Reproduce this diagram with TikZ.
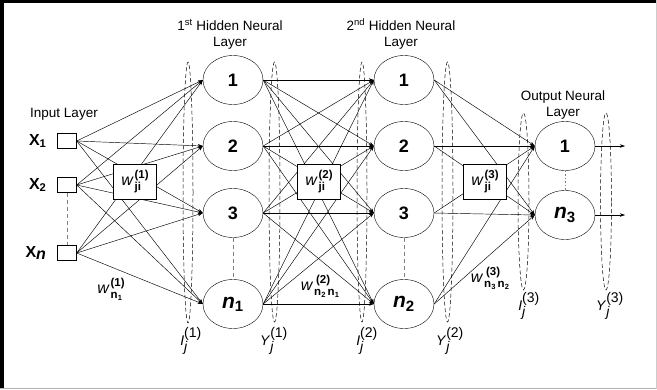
\documentclass[tikz,border=0pt]{standalone}
\usepackage{fontspec}
\setmainfont{Liberation Sans}
\usetikzlibrary{shapes.geometric,arrows.meta}
\newcommand{\wstack}[2]{\textit{w}\kern0.8pt{\fontsize{11.5}{11.5}\selectfont\bfseries\renewcommand{\arraystretch}{1.0}\begin{tabular}[c]{@{}l@{}}#1\\#2\end{tabular}}}
\newcommand{\nsub}[1]{n\kern0.3pt\raisebox{-2pt}{\fontsize{7.5}{8}\selectfont #1}}
\begin{document}
\begin{tikzpicture}[x=1pt,y=-1pt,
  inbox/.style={draw, minimum width=19pt, minimum height=15pt, inner sep=0pt},
  neuron/.style={draw, ellipse, minimum width=60pt, minimum height=49pt, inner sep=0pt, font=\fontsize{18}{18}\selectfont\bfseries},
  nneuron/.style={neuron, font=\fontsize{21}{21}\selectfont\bfseries\itshape},
  wbox/.style={draw, fill=white, minimum width=43pt, minimum height=35pt, inner sep=0pt, font=\fontsize{16}{16}\selectfont},
  conn/.style={-{Stealth[length=5pt,width=3.5pt]}, line width=0.45pt},
  sumell/.style={draw, dashed, ellipse, inner sep=0pt, line width=0.5pt, dash pattern=on 4pt off 2.5pt},
  gap/.style={draw=gray, dashed, line width=0.6pt, dash pattern=on 4pt off 3pt},
  ttl/.style={align=center, font=\fontsize{13.5}{15.5}\selectfont},
  xlab/.style={font=\fontsize{16}{16}\selectfont\bfseries},
  slab/.style={font=\fontsize{14}{14}\selectfont},
  wlab/.style={font=\fontsize{16}{16}\selectfont, inner sep=1pt}
]
\useasboundingbox (0,0) rectangle (657,389);
% frame
\fill[black] (0,0) rectangle (4,389);
\fill[black] (0,0) rectangle (657,3);
\draw[gray!60, line width=0.8pt] (0,388.4) -- (657,388.4);
\draw[gray!40, line width=0.8pt] (656.4,0) -- (656.4,389);

% input layer
\node[inbox] (x1) at (67,141) {};
\node[inbox] (x2) at (67,185) {};
\node[inbox] (xn) at (67,253) {};
\node[xlab, anchor=east] (lx1) at (50,141) {X$_{\mathbf{1}}$};
\node[xlab, anchor=east] (lx2) at (50,185) {X$_{\mathbf{2}}$};
\node[xlab, anchor=east] (lxn) at (50,253) {X$_{\textbf{\textit{n}}}$};
\node[ttl] (tin) at (64,114) {Input Layer};

% hidden layer 1
\node[neuron] (h11) at (233,80) {1};
\node[neuron] (h12) at (233,146) {2};
\node[neuron] (h13) at (233,213) {3};
\node[nneuron] (h1n) at (233,304) {n\textsubscript{\fontsize{15}{15}\selectfont\upshape 1}};
\node[ttl] (th1) at (230,34) {1\textsuperscript{st} Hidden Neural\\Layer};

% hidden layer 2
\node[neuron] (h21) at (404,80) {1};
\node[neuron] (h22) at (404,146) {2};
\node[neuron] (h23) at (404,213) {3};
\node[nneuron] (h2n) at (404,304) {n\textsubscript{\fontsize{15}{15}\selectfont\upshape 2}};
\node[ttl] (th2) at (401,34) {2\textsuperscript{nd} Hidden Neural\\Layer};

% output layer
\node[neuron] (o1) at (565,146) {1};
\node[nneuron] (o3) at (565,215) {n\textsubscript{\fontsize{15}{15}\selectfont\upshape 3}};
\node[ttl] (tout) at (563,105) {Output Neural\\Layer};
\coordinate (e1) at (625,146);
\coordinate (e3) at (625,215);

% gaps
\draw[gap] (x2.south) -- (xn.north);
\draw[gap] (h13.south) -- (h1n.north);
\draw[gap] (h23.south) -- (h2n.north);
\draw[draw=gray, line width=0.6pt, dash pattern=on 1.5pt off 2pt] (o1.south) -- (o3.north);

% summation ellipses
\node[sumell, minimum width=10pt, minimum height=261pt] (I1) at (188,192.5) {};
\node[sumell, minimum width=11pt, minimum height=260pt] (Y1) at (274.5,192) {};
\node[sumell, minimum width=10pt, minimum height=260pt] (I2) at (362,192) {};
\node[sumell, minimum width=11pt, minimum height=260pt] (Y2) at (447.5,192) {};
\node[sumell, minimum width=11pt, minimum height=177pt] (I3) at (523.5,201.5) {};
\node[sumell, minimum width=11pt, minimum height=177pt] (Y3) at (606,201.5) {};

% connections
\foreach \s in {x1,x2,xn}
  \foreach \t in {h11,h12,h13,h1n}
    \draw[conn] (\s.east) -- (\t.west);
\foreach \s in {h11,h12,h13,h1n}
  \foreach \t in {h21,h22,h23,h2n}
    \draw[conn] (\s.east) -- (\t.west);
\foreach \s in {h21,h22,h23,h2n}
  \foreach \t in {o1,o3}
    \draw[conn] (\s.east) -- (\t.west);
\draw[conn] (o1.east) -- (e1);
\draw[conn] (o3.east) -- (e3);

% weight boxes
\node[wbox] (w1) at (135,182) {\wstack{(1)}{ji}};
\node[wbox] (w2) at (319,182) {\wstack{(2)}{ji}};
\node[wbox] (w3) at (485,182) {\wstack{(3)}{ji}};

% weight labels
\node[wlab] (wl1) at (111,290) {\wstack{(1)}{\nsub{1}}};
\node[wlab] (wl2) at (320,287) {\wstack{\,(2)}{\nsub{2}\,\nsub{1}}};
\node[wlab] (wl3) at (490,279) {\wstack{\,(3)}{\nsub{3}\,\nsub{2}}};

% sum labels
\node[slab] (lI1) at (191,341) {\textit{I}$^{\textup{(1)}}_{\textit{j}}$};
\node[slab] (lY1) at (274,341) {\textit{Y}$^{\textup{(1)}}_{\textit{j}}$};
\node[slab] (lI2) at (367,341) {\textit{I}$^{\textup{(2)}}_{\textit{j}}$};
\node[slab] (lY2) at (450,341) {\textit{Y}$^{\textup{(2)}}_{\textit{j}}$};
\node[slab] (lI3) at (529,306) {\textit{I}$^{\textup{(3)}}_{\textit{j}}$};
\node[slab] (lY3) at (610,306) {\textit{Y}$^{\textup{(3)}}_{\textit{j}}$};
\end{tikzpicture}
\end{document}
